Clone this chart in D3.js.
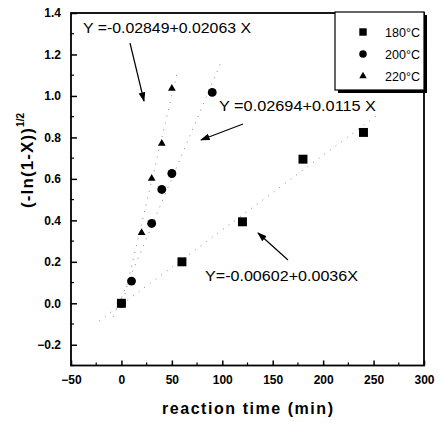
<!DOCTYPE html>
<html>
<head>
<meta charset="utf-8">
<script src="https://cdn.jsdelivr.net/npm/d3@7"></script>
<style>
  body { margin: 0; background: #fff; }
  text { font-family: Arial, 'Liberation Sans', sans-serif; }
  .tick-label { font-size: 12px; font-weight: bold; }
  .axis-label { font-size: 16px; font-weight: bold; }
  .eq { font-size: 14px; }
</style>
</head>
<body>
<svg width="438" height="424"></svg>
<script>
const svg = d3.select('svg');

// data
const series = ['180°C', '200°C', '220°C'];
const time180 = [0, 60, 120, 180, 240];
const val180 = [0, 0.2, 0.393, 0.695, 0.824];
const time200 = [0, 10, 30, 40, 50, 90];
const val200 = [0, 0.107, 0.385, 0.549, 0.626, 1.017];
const time220 = [0, 20, 30, 40, 50];
const val220 = [0, 0.34, 0.602, 0.771, 1.036];

// fitted lines: intercept, slope, x range
const fits = [
    { a: -0.00602, b: 0.0036, from: -22, to: 255 },
    { a: 0.02694, b: 0.0115, from: -8, to: 100 },
    { a: -0.02849, b: 0.02063, from: 2, to: 56 }
];

const xTicks = [-50, 0, 50, 100, 150, 200, 250, 300];
const yTicks = [-0.2, 0.0, 0.2, 0.4, 0.6, 0.8, 1.0, 1.2, 1.4];

const margin = { top: 13, right: 14, bottom: 58.5, left: 71 };
const width = 438, height = 424;
const innerWidth = width - margin.left - margin.right;
const innerHeight = height - margin.top - margin.bottom;

const xScale = d3.scaleLinear().domain([-50, 300]).range([0, innerWidth]);
const yScale = d3.scaleLinear().domain([-0.3, 1.4]).range([innerHeight, 0]);

const g = svg.append('g')
    .attr('transform', `translate(${margin.left},${margin.top})`);

// fit lines (dotted)
g.selectAll('.fit').data(fits)
    .enter().append('line')
        .attr('class', 'fit')
        .attr('x1', d => xScale(d.from))
        .attr('y1', d => yScale(d.a + d.b * d.from))
        .attr('x2', d => xScale(d.to))
        .attr('y2', d => yScale(d.a + d.b * d.to))
        .attr('stroke', '#888')
        .attr('stroke-width', 1)
        .attr('stroke-dasharray', '1,6');

// axes
const xAxis = d3.axisBottom(xScale).tickValues(xTicks).tickSizeInner(-5).tickSizeOuter(0).tickPadding(10);
const yAxis = d3.axisLeft(yScale).tickValues(yTicks).tickSizeInner(-6).tickSizeOuter(0).tickPadding(10)
    .tickFormat(d3.format('.1f'));

const xAxisG = g.append('g')
    .attr('transform', `translate(0,${innerHeight})`)
    .call(xAxis);
const yAxisG = g.append('g').call(yAxis);

[xAxisG, yAxisG].forEach(ax => {
    ax.select('.domain').remove();
    ax.selectAll('.tick line').attr('stroke', '#000').attr('stroke-width', 1.5);
    ax.selectAll('.tick text').attr('class', 'tick-label').attr('fill', '#000');
});

// minor ticks
const xMinor = d3.range(-25, 300, 50);
const yMinor = d3.range(-0.3, 1.4, 0.2);
g.selectAll('.xminor').data(xMinor)
    .enter().append('line')
        .attr('x1', d => xScale(d)).attr('x2', d => xScale(d))
        .attr('y1', innerHeight).attr('y2', innerHeight - 3)
        .attr('stroke', '#000').attr('stroke-width', 1.2);
g.selectAll('.yminor').data(yMinor)
    .enter().append('line')
        .attr('y1', d => yScale(d)).attr('y2', d => yScale(d))
        .attr('x1', 0).attr('x2', 3)
        .attr('stroke', '#000').attr('stroke-width', 1.2);

// frame
g.append('rect')
    .attr('width', innerWidth).attr('height', innerHeight)
    .attr('fill', 'none').attr('stroke', '#000').attr('stroke-width', 1.8);

// markers
const square = d3.symbol().type(d3.symbolSquare).size(80);
const circle = d3.symbol().type(d3.symbolCircle).size(62);
const tri = d3.symbol().type(d3.symbolTriangle).size(26);

const pts = (xs, ys) => xs.map((x, i) => ({ x, y: ys[i] }));

g.selectAll('.s180').data(pts(time180, val180))
    .enter().append('path')
        .attr('d', square)
        .attr('transform', d => `translate(${xScale(d.x)},${yScale(d.y)})`);
g.selectAll('.s200').data(pts(time200, val200))
    .enter().append('path')
        .attr('d', circle)
        .attr('transform', d => `translate(${xScale(d.x)},${yScale(d.y)})`);
g.selectAll('.s220').data(pts(time220, val220))
    .enter().append('path')
        .attr('d', tri)
        .attr('transform', d => `translate(${xScale(d.x)},${yScale(d.y)})`);

// arrows
svg.append('defs').append('marker')
    .attr('id', 'ah')
    .attr('viewBox', '0 0 10 10')
    .attr('refX', 9).attr('refY', 5)
    .attr('markerWidth', 8).attr('markerHeight', 8)
    .attr('orient', 'auto')
  .append('path')
    .attr('d', 'M0,1.5 L10,5 L0,8.5 Z')
    .attr('fill', '#000');

const arrows = [
    [130, 43, 144, 101],
    [243, 124, 201, 140],
    [288, 260, 258, 233]
];
svg.selectAll('.arrow').data(arrows)
    .enter().append('line')
        .attr('x1', d => d[0]).attr('y1', d => d[1])
        .attr('x2', d => d[2]).attr('y2', d => d[3])
        .attr('stroke', '#000').attr('stroke-width', 1.2)
        .attr('marker-end', 'url(#ah)');

// equations
const eqs = [
    { t: 'Y =-0.02849+0.02063 X', x: 83, y: 33, w: 168 },
    { t: 'Y =0.02694+0.0115 X', x: 219, y: 111, w: 157 },
    { t: 'Y=-0.00602+0.0036X', x: 205, y: 281, w: 153 }
];
svg.selectAll('.eq').data(eqs)
    .enter().append('text')
        .attr('class', 'eq')
        .attr('x', d => d.x).attr('y', d => d.y)
        .attr('textLength', d => d.w)
        .attr('lengthAdjust', 'spacingAndGlyphs')
        .text(d => d.t);

// legend
const lg = svg.append('g').attr('transform', 'translate(335,12)');
lg.append('rect').attr('x', 3).attr('y', 3).attr('width', 89).attr('height', 78).attr('fill', '#000');
lg.append('rect').attr('width', 89).attr('height', 78)
    .attr('fill', '#fff').attr('stroke', '#000').attr('stroke-width', 1.2);
const legSyms = [
    d3.symbol().type(d3.symbolSquare).size(55),
    d3.symbol().type(d3.symbolCircle).size(45),
    d3.symbol().type(d3.symbolTriangle).size(24)
];
series.forEach((s, i) => {
    const yy = 20 + i * 22;
    lg.append('path').attr('d', legSyms[i]).attr('transform', `translate(28,${yy})`);
    lg.append('text')
        .attr('x', 50).attr('y', yy + 4.5)
        .attr('font-size', 12.5)
        .attr('textLength', 35)
        .text(s);
});

// axis labels
svg.append('text')
    .attr('class', 'axis-label')
    .attr('font-size', 18)
    .attr('x', 162)
    .attr('y', 414)
    .attr('textLength', 171)
    .text('reaction time (min)');

const yl = svg.append('text')
    .attr('class', 'axis-label')
    .attr('transform', 'translate(33,208) rotate(-90)');
yl.append('tspan').attr('font-size', 17).attr('textLength', 80).text('(-ln(1-X))');
yl.append('tspan').attr('dy', -9).attr('font-size', 10).text('1/2');
</script>
</body>
</html>
